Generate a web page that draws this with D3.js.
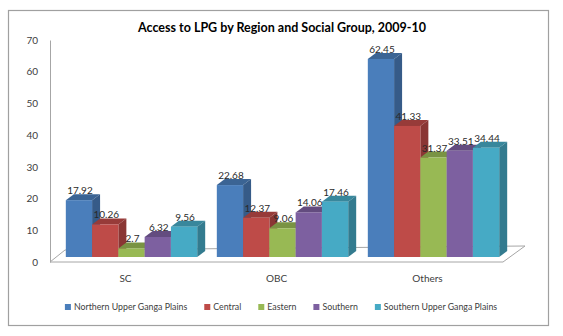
<!DOCTYPE html>
<html>
<head>
<meta charset="utf-8">
<script src="https://cdn.jsdelivr.net/npm/d3@7"></script>
<style>
  body { margin: 0; background: #fff; }
  text { font-family: Lato, "Liberation Sans", sans-serif; }
</style>
</head>
<body>
<svg id="chart" width="563" height="336"></svg>
<script>
// categories and series
const groups = ['SC', 'OBC', 'Others'];
const regions = ['Northern Upper Ganga Plains', 'Central', 'Eastern', 'Southern', 'Southern Upper Ganga Plains'];
const northernUGP = [17.92, 22.68, 62.45];
const central = [10.26, 12.37, 41.33];
const eastern = [2.7, 9.06, 31.37];
const southern = [6.32, 14.06, 33.51];
const southernUGP = [9.56, 17.46, 34.44];
const yTicks = [0, 10, 20, 30, 40, 50, 60, 70];

const series = [northernUGP, central, eastern, southern, southernUGP];
const colors = ['#4A7EBB', '#BE4B48', '#98B954', '#7D60A0', '#46AAC5'];

const svg = d3.select('#chart');
const depth = { dx: 8, dy: -6 };

// frame
svg.append('rect')
  .attr('x', 8.5).attr('y', 10.5)
  .attr('width', 540).attr('height', 315)
  .attr('fill', '#fff')
  .attr('stroke', '#A0A0A0')
  .attr('stroke-width', 1.2);

// title
svg.append('text')
  .attr('x', 282).attr('y', 32)
  .attr('text-anchor', 'middle')
  .attr('font-size', 12.5)
  .attr('font-weight', 'bold')
  .attr('fill', '#000')
  .text('Access to LPG by Region and Social Group, 2009-10');

// scales: front plane (axis, labels) and bar plane (slightly deeper)
const yAxisScale = d3.scaleLinear().domain([0, 70]).range([262, 40]);
const yBar = d3.scaleLinear().domain([0, 70]).range([257, 35]);
const xLabel = d3.scaleBand().domain(groups).range([50, 503]);
const xBar = d3.scaleBand().domain(groups).range([56, 509])
  .paddingInner(0.13).paddingOuter(0.065);
const xInner = d3.scaleBand().domain(regions).range([0, xBar.bandwidth()]);

// floor
const fx0 = xLabel.range()[0], fx1 = xLabel.range()[1], fy = yAxisScale(0);
svg.append('path')
  .attr('d', d3.line()([[fx0, fy], [fx1, fy], [fx1 + 22, fy - 16], [fx0 + 15, fy - 12], [fx0, fy]]))
  .attr('fill', 'none')
  .attr('stroke', '#A6A6A6')
  .attr('stroke-width', 1);

// y axis
const yAxis = svg.append('g')
  .attr('transform', 'translate(' + fx0 + ',0)')
  .call(d3.axisLeft(yAxisScale).tickValues(yTicks).tickSize(0).tickPadding(12));
yAxis.select('.domain').attr('stroke', '#A6A6A6');
yAxis.selectAll('text')
  .attr('font-family', 'Lato, "Liberation Sans", sans-serif')
  .attr('font-size', 10)
  .attr('fill', '#404040');

// bars
const bars = [];
groups.forEach((g, gi) => {
  regions.forEach((r, ri) => {
    bars.push({ group: g, region: r, value: series[ri][gi], color: colors[ri] });
  });
});

const barG = svg.append('g');
bars.forEach(d => {
  const x0 = xBar(d.group) + xInner(d.region);
  const w = xInner.bandwidth();
  const yTop = yBar(d.value);
  const yBase = yBar(0);
  const g = barG.append('g');
  const c = d3.color(d.color);
  // top face
  g.append('path')
    .attr('d', d3.line()([[x0, yTop], [x0 + w, yTop], [x0 + w + depth.dx, yTop + depth.dy], [x0 + depth.dx, yTop + depth.dy]]) + 'Z')
    .attr('fill', c.darker(0.65));
  // side face
  g.append('path')
    .attr('d', d3.line()([[x0 + w, yTop], [x0 + w + depth.dx, yTop + depth.dy], [x0 + w + depth.dx, yBase + depth.dy], [x0 + w, yBase]]) + 'Z')
    .attr('fill', c.darker(0.9));
  // front face
  g.append('rect')
    .attr('x', x0).attr('y', yTop)
    .attr('width', w).attr('height', yBase - yTop)
    .attr('fill', d.color);
});

// data labels
svg.append('g').selectAll('text')
  .data(bars)
  .join('text')
  .attr('x', d => xBar(d.group) + xInner(d.region) + xInner.bandwidth() / 2 + 1)
  .attr('y', d => yBar(d.value) - 6)
  .attr('text-anchor', 'middle')
  .attr('font-size', 10)
  .attr('fill', '#2a2a2a')
  .text(d => d.value);

// category labels
svg.append('g').selectAll('text')
  .data(groups)
  .join('text')
  .attr('x', d => xLabel(d) + xLabel.bandwidth() / 2)
  .attr('y', 282)
  .attr('text-anchor', 'middle')
  .attr('font-size', 10)
  .attr('fill', '#404040')
  .text(d => d);

// legend
const legend = svg.append('g');
let lx = 0;
regions.forEach((r, i) => {
  const it = legend.append('g').attr('transform', 'translate(' + lx + ',0)');
  it.append('rect').attr('x', 0).attr('y', -6).attr('width', 6).attr('height', 6).attr('fill', colors[i]);
  const t = it.append('text').attr('x', 9).attr('y', 0).attr('font-size', 8.8).attr('fill', '#404040').text(r);
  lx += 9 + t.node().getComputedTextLength() + 17;
});
const legendW = lx - 17;
legend.attr('transform', 'translate(' + (281 - legendW / 2) + ',310)');
</script>
</body>
</html>
